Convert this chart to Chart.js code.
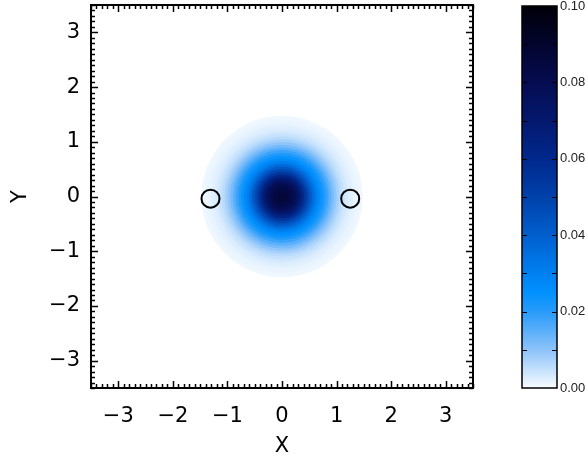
<!DOCTYPE html>
<html>
<head>
<meta charset="utf-8">
<script src="https://cdn.jsdelivr.net/npm/chart.js@4/dist/chart.umd.min.js"></script>
<style>
  html, body { margin: 0; padding: 0; background: #fff; }
  #wrap { position: relative; width: 587px; height: 459px; }
  #main { position: absolute; left: 0; top: 0; }
  #cbar { position: absolute; left: 500px; top: 0; }
</style>
</head>
<body>
<div id="wrap">
  <canvas id="main" width="587" height="459"></canvas>
  <canvas id="cbar" width="87" height="459"></canvas>
</div>
<script>
// ── data ──
const X_TICKS = [-3, -2, -1, 0, 1, 2, 3];
const Y_TICKS = [-3, -2, -1, 0, 1, 2, 3];
const AXIS_RANGE = [-3.5, 3.5];

// radial bands of the blob (outer radius of each band, in axis units)
// and the density read at each band from the colour scale
const R_BANDS = [0.05, 0.10, 0.15, 0.20, 0.25, 0.30, 0.35, 0.40, 0.45, 0.50,
                 0.55, 0.60, 0.65, 0.70, 0.75, 0.80, 0.85, 0.90, 0.95, 1.00,
                 1.05, 1.10, 1.15, 1.20, 1.25, 1.30, 1.35, 1.40, 1.45, 1.48];
const DENSITY = [0.0870, 0.0860, 0.0840, 0.0820, 0.0790, 0.0750, 0.0690, 0.0620, 0.0550, 0.0480,
                 0.0420, 0.0360, 0.0310, 0.0270, 0.0240, 0.0210, 0.0180, 0.0150, 0.0120, 0.0095,
                 0.0075, 0.0058, 0.0045, 0.0035, 0.0027, 0.0021, 0.0016, 0.0012, 0.0009, 0.0007];

// open circles
const CIRCLE_X = [-1.31, 1.25];
const CIRCLE_Y = [-0.04, -0.04];

// colour bar
const CBAR_RANGE = [0, 0.10];
const CBAR_TICKS = [0.00, 0.02, 0.04, 0.06, 0.08, 0.10];

// ── colour map (white → bright blue → navy → black) ──
const CMAP = [
  [0.000, 248, 252, 255],
  [0.010, 140, 195, 250],
  [0.020,  40, 155, 250],
  [0.025,   0, 145, 255],
  [0.030,   0, 128, 240],
  [0.040,   0,  95, 205],
  [0.050,   0,  65, 170],
  [0.060,   0,  40, 140],
  [0.070,   4,  24, 110],
  [0.080,   5,  12,  80],
  [0.090,   3,   5,  45],
  [0.100,   0,   0,   8],
];

function cmap(v) {
  if (v <= CMAP[0][0]) return `rgb(${CMAP[0][1]},${CMAP[0][2]},${CMAP[0][3]})`;
  for (let i = 1; i < CMAP.length; i++) {
    const a = CMAP[i - 1], b = CMAP[i];
    if (v <= b[0]) {
      const t = (v - a[0]) / (b[0] - a[0]);
      const c = [1, 2, 3].map(k => Math.round(a[k] + (b[k] - a[k]) * t));
      return `rgb(${c[0]},${c[1]},${c[2]})`;
    }
  }
  const l = CMAP[CMAP.length - 1];
  return `rgb(${l[1]},${l[2]},${l[3]})`;
}

const FONT_MAIN = '"DejaVu Sans", sans-serif';
const FONT_CBAR = '"Liberation Sans", Arial, sans-serif';

// ── frame + inward ticks on all four sides ──
const frameTicks = {
  id: 'frameTicks',
  afterDatasetsDraw(chart) {
    const { ctx, chartArea: a, scales: { x, y } } = chart;
    ctx.save();
    ctx.strokeStyle = '#000';
    ctx.lineWidth = 1.5;
    ctx.beginPath();
    for (let i = 0; i <= 70; i++) {
      const v = AXIS_RANGE[0] + i * 0.1;
      const major = Math.abs(v - Math.round(v)) < 1e-6;
      const len = major ? 7 : 4;
      const px = Math.round(x.getPixelForValue(v)) + 0.5;
      ctx.moveTo(px, a.bottom); ctx.lineTo(px, a.bottom - len);
      ctx.moveTo(px, a.top);    ctx.lineTo(px, a.top + len);
      const py = Math.round(y.getPixelForValue(v)) + 0.5;
      ctx.moveTo(a.left, py);  ctx.lineTo(a.left + len, py);
      ctx.moveTo(a.right, py); ctx.lineTo(a.right - len, py);
    }
    ctx.stroke();
    ctx.lineWidth = 2;
    ctx.strokeRect(a.left, a.top, a.right - a.left, a.bottom - a.top);
    ctx.restore();
  }
};

const fmtTick = v => (v < 0 ? '\u2212' + Math.abs(v) : String(v));

const bandOrder = R_BANDS.map((_, i) => R_BANDS.length - 1 - i); // outermost first
const bandRadius = c => {
  const s = c.chart.scales.x;
  return s.getPixelForValue(R_BANDS[bandOrder[c.dataIndex]]) - s.getPixelForValue(0);
};

new Chart(document.getElementById('main'), {
  type: 'scatter',
  data: {
    datasets: [
      {
        label: 'circles',
        order: 0,
        data: CIRCLE_X.map((x, i) => ({ x, y: CIRCLE_Y[i] })),
        pointRadius: 9,
        pointHoverRadius: 9,
        pointBackgroundColor: 'rgba(0,0,0,0)',
        pointBorderColor: '#000',
        pointBorderWidth: 2,
      },
      {
        label: 'density',
        order: 1,
        data: bandOrder.map(() => ({ x: 0, y: 0 })),
        pointRadius: bandRadius,
        pointHoverRadius: bandRadius,
        pointBackgroundColor: c => cmap(DENSITY[bandOrder[c.dataIndex]]),
        pointBorderWidth: 0,
      },
    ],
  },
  options: {
    responsive: false,
    animation: false,
    events: [],
    layout: { autoPadding: false, padding: { left: 0, top: 5, right: 114, bottom: 0 } },
    plugins: { legend: { display: false }, tooltip: { enabled: false } },
    scales: {
      x: {
        type: 'linear',
        min: AXIS_RANGE[0], max: AXIS_RANGE[1],
        afterBuildTicks: s => { s.ticks = X_TICKS.map(value => ({ value })); },
        afterFit: s => { s.height = 71; s.paddingLeft = 0; s.paddingRight = 0; },
        grid: { display: false, drawTicks: false },
        border: { display: false },
        ticks: { color: '#000', font: { family: FONT_MAIN, size: 21 }, padding: 16, callback: fmtTick, maxRotation: 0 },
        title: { display: true, text: 'X', color: '#000', font: { family: FONT_MAIN, size: 21 }, padding: { top: 0, bottom: 0 } },
      },
      y: {
        type: 'linear',
        min: AXIS_RANGE[0], max: AXIS_RANGE[1],
        afterBuildTicks: s => { s.ticks = Y_TICKS.map(value => ({ value })); },
        afterFit: s => { s.width = 91; s.paddingTop = 0; s.paddingBottom = 0; },
        grid: { display: false, drawTicks: false },
        border: { display: false },
        ticks: { color: '#000', font: { family: FONT_MAIN, size: 21 }, padding: 11, callback: fmtTick },
        title: { display: true, text: 'Y', color: '#000', font: { family: FONT_MAIN, size: 21 }, padding: { top: 8, bottom: 0 } },
      },
    },
  },
  plugins: [frameTicks],
});

// ── colour bar ──
const cbarFrame = {
  id: 'cbarFrame',
  afterDatasetsDraw(chart) {
    const { ctx, chartArea: a, scales: { y } } = chart;
    ctx.save();
    ctx.strokeStyle = '#000';
    ctx.lineWidth = 1;
    ctx.beginPath();
    for (let i = 1; i < 10; i++) {
      const py = Math.round(y.getPixelForValue(i * 0.01)) + 0.5;
      ctx.moveTo(a.left, py);  ctx.lineTo(a.left + 5, py);
      ctx.moveTo(a.right, py); ctx.lineTo(a.right - 5, py);
    }
    ctx.stroke();
    ctx.lineWidth = 1.5;
    ctx.strokeRect(a.left, a.top, a.right - a.left, a.bottom - a.top);
    ctx.restore();
  }
};

new Chart(document.getElementById('cbar'), {
  type: 'bar',
  data: {
    labels: ['z'],
    datasets: [{
      data: [CBAR_RANGE],
      categoryPercentage: 1,
      barPercentage: 1,
      borderWidth: 0,
      backgroundColor: c => {
        const chart = c.chart;
        if (!chart.chartArea) return '#fff';
        const y = chart.scales.y;
        const g = chart.ctx.createLinearGradient(0, y.getPixelForValue(CBAR_RANGE[0]), 0, y.getPixelForValue(CBAR_RANGE[1]));
        CMAP.forEach(s => g.addColorStop((s[0] - CBAR_RANGE[0]) / (CBAR_RANGE[1] - CBAR_RANGE[0]), `rgb(${s[1]},${s[2]},${s[3]})`));
        return g;
      },
    }],
  },
  options: {
    responsive: false,
    animation: false,
    events: [],
    layout: { autoPadding: false, padding: { left: 22, top: 6, right: 0, bottom: 71 } },
    plugins: { legend: { display: false }, tooltip: { enabled: false } },
    scales: {
      x: { display: false },
      y: {
        position: 'right',
        min: CBAR_RANGE[0], max: CBAR_RANGE[1],
        afterBuildTicks: s => { s.ticks = CBAR_TICKS.map(value => ({ value })); },
        afterFit: s => { s.width = 30; s.paddingTop = 0; s.paddingBottom = 0; },
        grid: { display: false, drawTicks: false },
        border: { display: false },
        ticks: { color: '#222', font: { family: FONT_CBAR, size: 13 }, padding: 3, callback: v => v.toFixed(2) },
      },
    },
  },
  plugins: [cbarFrame],
});
</script>
</body>
</html>
